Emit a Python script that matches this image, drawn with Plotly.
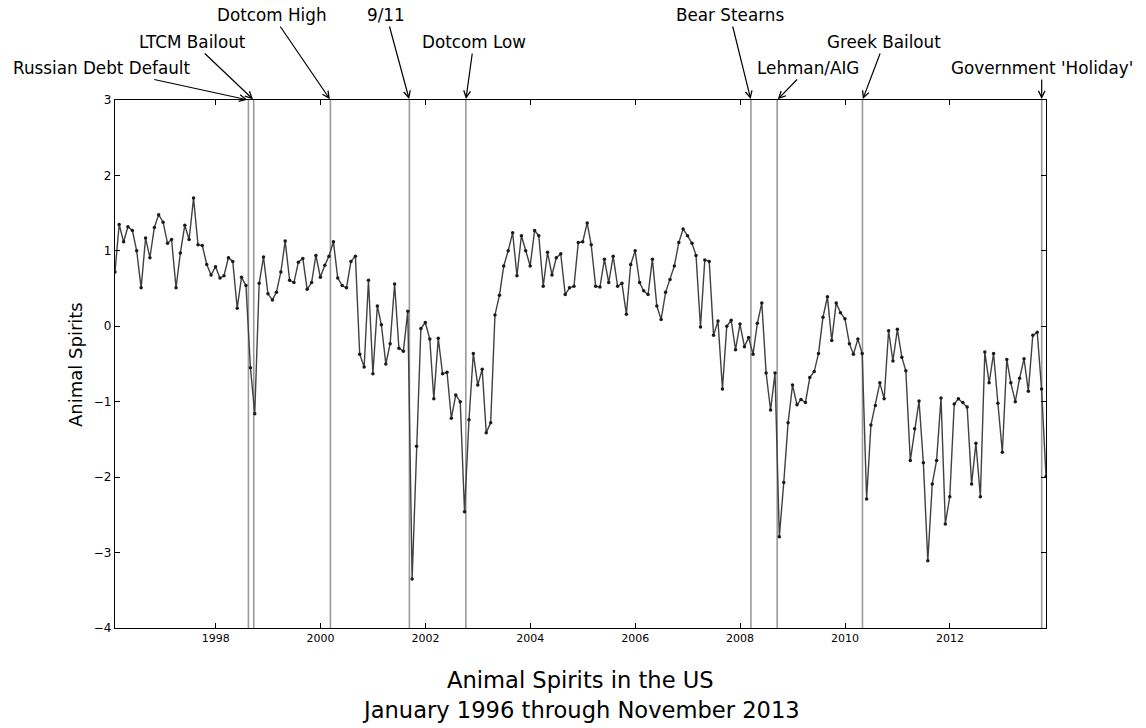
import pandas as pd
import plotly.graph_objects as go

# Monthly Animal Spirits index, January 1996 onward (month-end)
values = [
    0.72, 1.35, 1.12, 1.32, 1.27, 1.00, 0.51, 1.17, 0.91, 1.31, 1.48, 1.38,
    1.10, 1.15, 0.51, 0.97, 1.34, 1.15, 1.70, 1.08, 1.07, 0.82, 0.68, 0.79,
    0.64, 0.67, 0.91, 0.86, 0.24, 0.65, 0.54, -0.55, -1.16, 0.57, 0.92, 0.43,
    0.35, 0.45, 0.72, 1.13, 0.61, 0.58, 0.85, 0.90, 0.49, 0.58, 0.94, 0.65,
    0.81, 0.93, 1.12, 0.64, 0.54, 0.51, 0.86, 0.93, -0.37, -0.54, 0.61, -0.63,
    0.27, 0.02, -0.50, -0.23, 0.56, -0.29, -0.33, 0.20, -3.35, -1.59, -0.03, 0.05,
    -0.17, -0.96, -0.16, -0.63, -0.61, -1.22, -0.91, -1.00, -2.46, -1.24, -0.36, -0.78,
    -0.57, -1.41, -1.28, 0.15, 0.41, 0.80, 1.00, 1.24, 0.67, 1.20, 1.00, 0.80,
    1.27, 1.20, 0.53, 0.98, 0.68, 0.91, 0.96, 0.42, 0.51, 0.53, 1.11, 1.12,
    1.37, 1.08, 0.53, 0.52, 0.89, 0.58, 0.93, 0.53, 0.57, 0.16, 0.82, 1.00,
    0.58, 0.47, 0.42, 0.89, 0.27, 0.09, 0.45, 0.62, 0.80, 1.11, 1.29, 1.20,
    1.10, 0.94, -0.01, 0.88, 0.86, -0.12, 0.07, -0.83, 0.00, 0.08, -0.31, 0.03,
    -0.27, -0.15, -0.37, 0.04, 0.31, -0.62, -1.11, -0.62, -2.79, -2.07, -1.28, -0.78,
    -1.04, -0.97, -1.01, -0.68, -0.60, -0.36, 0.12, 0.39, -0.19, 0.31, 0.18, 0.10,
    -0.23, -0.37, -0.17, -0.36, -2.29, -1.31, -1.05, -0.75, -0.96, -0.06, -0.46, -0.04,
    -0.41, -0.59, -1.78, -1.36, -0.99, -1.81, -3.11, -2.09, -1.78, -0.95, -2.62, -2.26,
    -1.03, -0.96, -1.01, -1.07, -2.09, -1.55, -2.26, -0.34, -0.75, -0.36, -1.02, -1.67,
    -0.44, -0.75, -1.00, -0.69, -0.43, -0.86, -0.12, -0.08, -0.83, -1.99,
]
start_month = "1996-01-01"
dates = pd.date_range(start_month, periods=len(values), freq="MS") + pd.offsets.MonthEnd(1)

event_dates = ["1998-08-17", "1998-09-23", "2000-03-10", "2001-09-11", "2002-10-09",
               "2008-03-16", "2008-09-15", "2010-05-02", "2013-10-01"]
event_labels = ["Russian Debt Default", "LTCM Bailout", "Dotcom High", "9/11", "Dotcom Low",
                "Bear Stearns", "Lehman/AIG", "Greek Bailout", "Government 'Holiday'"]
# text offsets (pixels) of each label relative to its arrow head
event_ax = [-147, -61, -58, -23, 8, -21, 31, 22, 0]
event_ay = [-32, -58, -85, -85, -58, -85, -32, -58, -32]

tick_years = [1998, 2000, 2002, 2004, 2006, 2008, 2010, 2012]
y_ticks = [-4, -3, -2, -1, 0, 1, 2, 3]

FONT = "DejaVu Sans"

fig = go.Figure()
fig.add_trace(go.Scatter(
    x=dates, y=values, mode="lines+markers",
    line=dict(color="#404040", width=1.4),
    marker=dict(color="#1a1a1a", size=3.5),
    showlegend=False,
))

shapes = []
annotations = []
for d, lab, ax, ay in zip(event_dates, event_labels, event_ax, event_ay):
    shapes.append(dict(type="line", xref="x", yref="paper", x0=d, x1=d, y0=0, y1=1,
                       line=dict(color="#9a9a9a", width=1.6), layer="below"))
    annotations.append(dict(x=d, y=3, xref="x", yref="y", text=lab, showarrow=True,
                            ax=ax, ay=ay, arrowhead=5, arrowsize=1.1, arrowwidth=1.2,
                            arrowcolor="black", standoff=1,
                            font=dict(family=FONT, size=16.8, color="black")))

annotations.append(dict(x=-0.043, y=0.5, xref="paper", yref="paper", text="Animal Spirits",
                        textangle=-90, showarrow=False, xanchor="center", yanchor="middle",
                        font=dict(family=FONT, size=18, color="black")))
annotations.append(dict(x=0.5, y=-0.0985, xref="paper", yref="paper",
                        text="Animal Spirits in the US", showarrow=False,
                        xanchor="center", yanchor="middle",
                        font=dict(family=FONT, size=22.6, color="black")))
annotations.append(dict(x=0.5, y=-0.155, xref="paper", yref="paper",
                        text="January 1996 through November 2013", showarrow=False,
                        xanchor="center", yanchor="middle",
                        font=dict(family=FONT, size=22.6, color="black")))

fig.update_layout(
    width=1146, height=728,
    margin=dict(l=115, r=100, t=100, b=100),
    paper_bgcolor="white", plot_bgcolor="white",
    shapes=shapes, annotations=annotations,
    font=dict(family=FONT, color="black"),
)
fig.update_xaxes(
    range=[dates[0], dates[-1]],
    tickvals=[f"{y}-01-01" for y in tick_years], ticktext=[str(y) for y in tick_years],
    ticks="inside", ticklen=5, tickcolor="black", tickwidth=1,
    showline=True, linecolor="black", linewidth=1.3, mirror="ticks",
    showgrid=False, zeroline=False, tickfont=dict(family=FONT, size=11),
)
fig.update_yaxes(
    range=[-4, 3], tickvals=y_ticks,
    ticks="inside", ticklen=5, tickcolor="black", tickwidth=1,
    showline=True, linecolor="black", linewidth=1.3, mirror="ticks",
    showgrid=False, zeroline=False, tickfont=dict(family=FONT, size=12),
)

fig.write_html("out.html", config={"displayModeBar": False},
               post_script="document.body.style.margin='0';document.body.style.overflow='hidden';")
